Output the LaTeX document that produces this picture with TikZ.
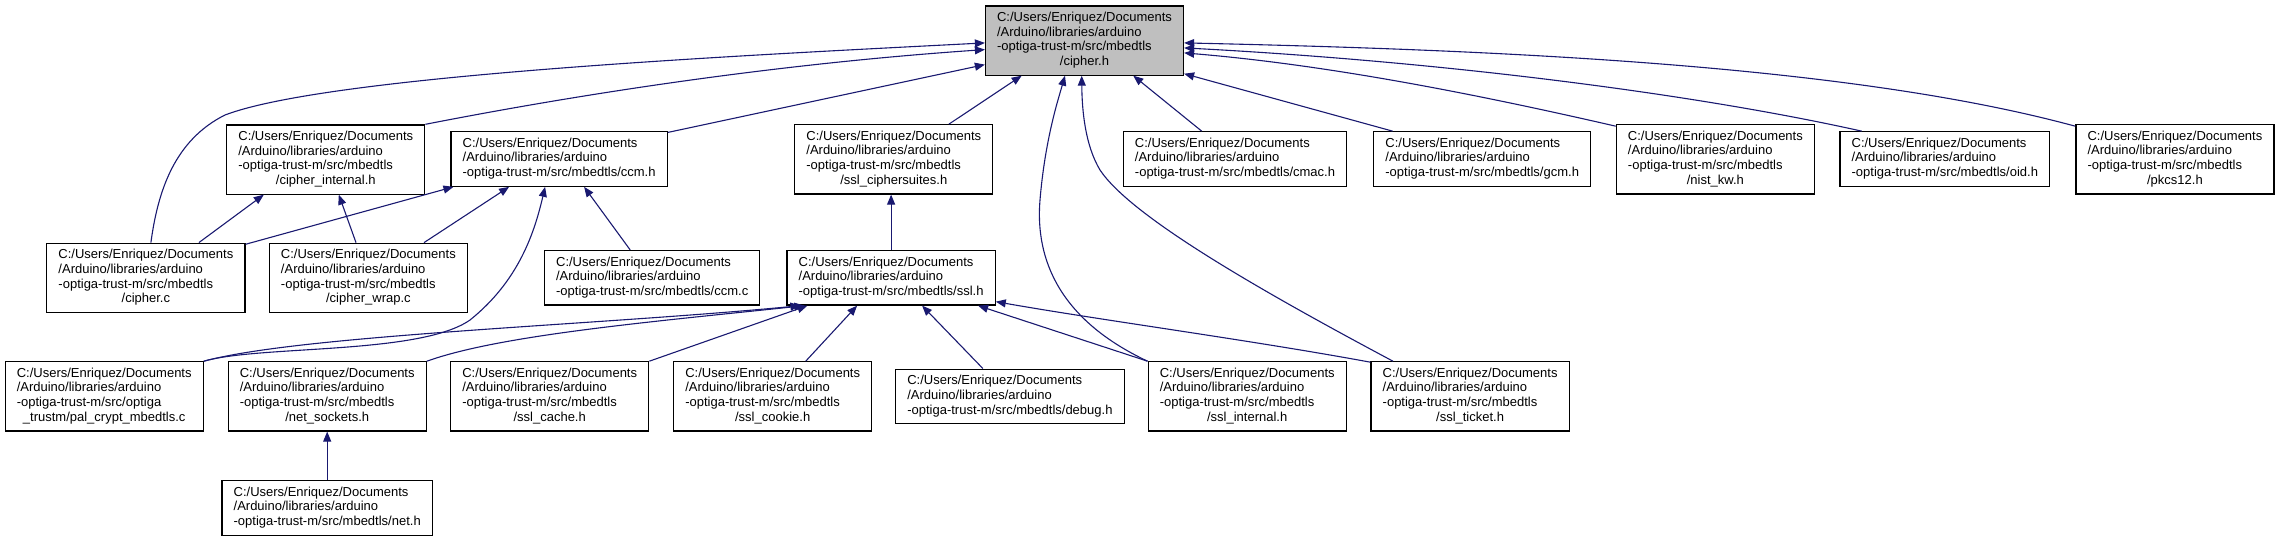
\documentclass[tikz,border=0pt]{standalone}
\usepackage{fontspec}
\setmainfont{Liberation Sans}
\usepackage{xcolor}
\usepackage{tikz}
\usetikzlibrary{
  arrows.meta,
  positioning,
  calc
}
\definecolor{xnavy}{RGB}{25,25,112}
\definecolor{xgray}{RGB}{191,191,191}

\newcommand{\doxlabel}[2]{\begin{tabular}{@{}l@{}}C:/Users/Enriquez/Documents\\/Arduino/libraries/arduino\\#1\\\multicolumn{1}{@{}c@{}}{#2}\end{tabular}}
\newcommand{\doxshort}[1]{\begin{tabular}{@{}l@{}}C:/Users/Enriquez/Documents\\/Arduino/libraries/arduino\\\multicolumn{1}{@{}c@{}}{#1}\end{tabular}}

\begin{document}
\begin{tikzpicture}[
  x=1pt, y=-1pt,
  filebox/.style={draw=black, fill=white, line width=1.2pt,
              inner xsep=11.6pt, inner ysep=5.2pt,
              font=\fontsize{13}{14.7}\selectfont},
  rootbox/.style={filebox, fill=xgray},
  incl/.style={-{Triangle[length=10pt,width=8pt]}, color=xnavy, line width=1.1pt}
]
  \useasboundingbox (0,0) rectangle (2279,541);

  % root header
  \node[rootbox] (cipherh) at (1084.5,40.5) {\doxlabel{-optiga-trust-m/src/mbedtls}{/cipher.h}};

  % first row
  \node[filebox] (cipherint) at (325.8,159.5) {\doxlabel{-optiga-trust-m/src/mbedtls}{/cipher\_internal.h}};
  \node[filebox] (ccmh)      at (559.1,159)   {\doxshort{-optiga-trust-m/src/mbedtls/ccm.h}};
  \node[filebox] (sslcs)     at (893.8,159.4) {\doxlabel{-optiga-trust-m/src/mbedtls}{/ssl\_ciphersuites.h}};
  \node[filebox] (cmach)     at (1235,159)    {\doxshort{-optiga-trust-m/src/mbedtls/cmac.h}};
  \node[filebox] (gcmh)      at (1482.2,159)  {\doxshort{-optiga-trust-m/src/mbedtls/gcm.h}};
  \node[filebox] (nistkw)    at (1715.4,159.4){\doxlabel{-optiga-trust-m/src/mbedtls}{/nist\_kw.h}};
  \node[filebox] (oidh)      at (1944.8,159)  {\doxshort{-optiga-trust-m/src/mbedtls/oid.h}};
  \node[filebox] (pkcs)      at (2174.9,159.4){\doxlabel{-optiga-trust-m/src/mbedtls}{/pkcs12.h}};

  % second row
  \node[filebox] (cipherc)   at (145.9,277.8) {\doxlabel{-optiga-trust-m/src/mbedtls}{/cipher.c}};
  \node[filebox] (cipherwrap) at (368.4,277.8){\doxlabel{-optiga-trust-m/src/mbedtls}{/cipher\_wrap.c}};
  \node[filebox] (ccmc)      at (652.2,277.8) {\doxshort{-optiga-trust-m/src/mbedtls/ccm.c}};
  \node[filebox] (sslh)      at (891.1,277.8) {\doxshort{-optiga-trust-m/src/mbedtls/ssl.h}};

  % third row
  \node[filebox] (palcrypt)  at (104.2,396.4) {\doxlabel{-optiga-trust-m/src/optiga}{\_trustm/pal\_crypt\_mbedtls.c}};
  \node[filebox] (netsock)   at (327.2,396.4) {\doxlabel{-optiga-trust-m/src/mbedtls}{/net\_sockets.h}};
  \node[filebox] (sslcache)  at (549.7,396.4) {\doxlabel{-optiga-trust-m/src/mbedtls}{/ssl\_cache.h}};
  \node[filebox] (sslcookie) at (772.7,396.4) {\doxlabel{-optiga-trust-m/src/mbedtls}{/ssl\_cookie.h}};
  \node[filebox] (debugh)    at (1009.9,396.4){\doxshort{-optiga-trust-m/src/mbedtls/debug.h}};
  \node[filebox] (sslint)    at (1247.2,396.4){\doxlabel{-optiga-trust-m/src/mbedtls}{/ssl\_internal.h}};
  \node[filebox] (sslticket) at (1470.1,396.4){\doxlabel{-optiga-trust-m/src/mbedtls}{/ssl\_ticket.h}};

  % bottom
  \node[filebox] (neth)      at (327.2,507.9) {\doxshort{-optiga-trust-m/src/mbedtls/net.h}};

  % includes of cipher.h
  \draw[incl] ([xshift=5pt]cipherc.north) .. controls (158,190) and (175,140) .. (225,115)
    .. controls (330,75) and (750,55) .. ([yshift=-37.6pt]cipherh.north west);
  \draw[incl] (cipherint.north east) .. controls (560,98) and (760,65) .. ([yshift=-44.3pt]cipherh.north west);
  \draw[incl] ([yshift=-1.3pt]ccmh.north east) -- ([yshift=-59.3pt]cipherh.north west);
  \draw[incl] ([xshift=55pt]sslcs.north) -- ([xshift=-62.8pt]cipherh.south);
  \draw[incl] (sslint.north west) .. controls (1060,320) and (1035,260) .. (1040,200)
    .. controls (1045,140) and (1058,100) .. ([xshift=-19.5pt]cipherh.south);
  \draw[incl] ([xshift=22.5pt]sslticket.north west) .. controls (1250,285) and (1130,215) .. (1100,170)
    .. controls (1085,145) and (1082,110) .. ([xshift=-2.8pt]cipherh.south);
  \draw[incl] ([xshift=-33.3pt]cmach.north) -- ([xshift=48.8pt]cipherh.south);
  \draw[incl] ([xshift=-89.6pt]gcmh.north) -- ([yshift=2pt]cipherh.south east);
  \draw[incl] ([yshift=-2pt]nistkw.north west) .. controls (1480,95) and (1330,65) .. ([yshift=-47.6pt]cipherh.north east);
  \draw[incl] ([xshift=22.3pt]oidh.north west) .. controls (1700,95) and (1450,62) .. ([yshift=-42.6pt]cipherh.north east);
  \draw[incl] ([yshift=-2pt]pkcs.north west) .. controls (1850,65) and (1500,50) .. ([yshift=-37.6pt]cipherh.north east);

  % includes of cipher_internal.h and ccm.h
  \draw[incl] ([xshift=53pt]cipherc.north) -- ([xshift=-62pt]cipherint.south);
  \draw[incl] ([xshift=-12.4pt]cipherwrap.north) -- ([xshift=13pt]cipherint.south);
  \draw[incl] ([yshift=-1.7pt]cipherc.north east) -- ([xshift=3pt]ccmh.south west);
  \draw[incl] ([xshift=-44pt]cipherwrap.north east) -- ([xshift=-50pt]ccmh.south);
  \draw[incl] (palcrypt.north east) .. controls (260,345) and (420,355) .. (470,320)
    .. controls (520,280) and (535,230) .. ([xshift=-14pt]ccmh.south);
  \draw[incl] ([xshift=-22pt]ccmc.north) -- ([xshift=25pt]ccmh.south);

  % includes of ssl_ciphersuites.h and ssl.h
  \draw[incl] (sslh.north) -- (sslh.north |- sslcs.south);
  \draw[incl] (palcrypt.north east) .. controls (300,335) and (600,325) .. ([xshift=14pt]sslh.south west);
  \draw[incl] (netsock.north east) .. controls (500,335) and (650,322) .. ([xshift=18pt]sslh.south west);
  \draw[incl] (sslcache.north east) -- ([xshift=21pt]sslh.south west);
  \draw[incl] ([xshift=33pt]sslcookie.north) -- ([xshift=-34pt]sslh.south);
  \draw[incl] ([xshift=-27pt]debugh.north) -- ([xshift=31pt]sslh.south);
  \draw[incl] (sslint.north west) -- ([xshift=87pt]sslh.south);
  \draw[incl] ([yshift=-1pt]sslticket.north west) .. controls (1250,340) and (1100,320) .. ([yshift=4pt]sslh.south east);

  % net.h
  \draw[incl] (neth.north) -- (netsock.south);
\end{tikzpicture}
\end{document}
